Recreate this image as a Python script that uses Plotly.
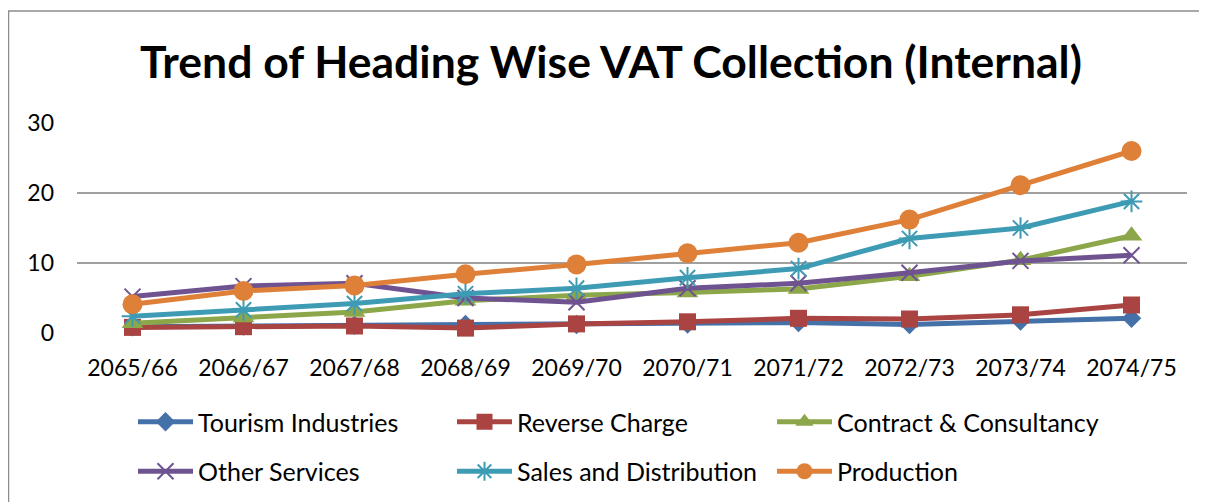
import plotly.graph_objects as go

categories = ["2065/66", "2066/67", "2067/68", "2068/69", "2069/70",
              "2070/71", "2071/72", "2072/73", "2073/74", "2074/75"]
tourism = [0.9, 1.0, 1.1, 1.2, 1.2, 1.3, 1.5, 1.2, 1.7, 2.1]
reverse_charge = [0.8, 0.9, 1.0, 0.7, 1.3, 1.6, 2.1, 2.0, 2.6, 4.0]
contract = [1.4, 2.2, 3.0, 4.6, 5.4, 5.8, 6.3, 8.1, 10.4, 13.9]
other_services = [5.2, 6.7, 7.1, 5.0, 4.4, 6.4, 7.1, 8.6, 10.3, 11.1]
sales = [2.4, 3.3, 4.2, 5.6, 6.4, 7.9, 9.2, 13.5, 15.0, 18.8]
production = [4.1, 6.0, 6.8, 8.4, 9.8, 11.4, 12.9, 16.2, 21.1, 26.0]
y_ticks = [0, 10, 20, 30]

FONT = "Lato"

# legend column: legend (col 1), legend2 (col 2), legend3 (col 3)
series = [
    ("Tourism Industries", tourism, "#4571A9", "diamond", 15, "legend"),
    ("Reverse Charge", reverse_charge, "#A94442", "square", 17, "legend2"),
    ("Contract & Consultancy", contract, "#8CA74A", "triangle-up", 19, "legend3"),
    ("Other Services", other_services, "#6F5391", "x-thin-open", 16, "legend"),
    ("Sales and Distribution", sales, "#3E9BB4", "asterisk-open", 18, "legend2"),
    ("Production", production, "#DF8039", "circle", 20, "legend3"),
]

fig = go.Figure()
for i, (name, vals, color, sym, size, lg) in enumerate(series):
    open_sym = sym.endswith("open")
    fig.add_trace(go.Scatter(
        x=categories, y=vals, name=name, mode="lines+markers",
        line=dict(color=color, width=5),
        marker=dict(symbol=sym, size=size, color=color,
                    line=dict(color=color, width=2 if open_sym else 0)),
        legend=lg, legendgroup=f"g{i}", cliponaxis=False,
    ))

# the page body adds an 8px offset; lay out in screen pixels minus that
OFF = 8
W, H = 1207 - OFF, 502 - OFF
L = 77 - OFF
T = 123 - OFF
R = W - (1187 - OFF)
B = H - (333 - OFF)
pw = W - L - R
ph = H - T - B

def px2x(px):
    return (px - OFF - L) / pw

def py2y(py):
    return (H - B - (py - OFF)) / ph

legend_common = dict(orientation="v", xanchor="left", yanchor="top",
                     xref="paper", yref="paper", itemwidth=55,
                     tracegroupgap=14, y=py2y(399),
                     font=dict(size=25, family=FONT), bgcolor="rgba(0,0,0,0)")

fig.update_layout(
    width=W, height=H,
    margin=dict(l=L, r=R, t=T, b=B, autoexpand=False),
    paper_bgcolor="white", plot_bgcolor="white",
    font=dict(family=FONT, color="black", size=22),
    title=dict(text="<b>Trend of Heading Wise VAT Collection (Internal)</b>",
               font=dict(family=FONT, size=44.5, color="black"),
               x=(611 - OFF) / W, xanchor="center", y=1 - (62 - OFF) / H,
               yanchor="middle", xref="container", yref="container"),
    xaxis=dict(type="category", range=[-0.5, 9.5], showgrid=False,
               showline=False, zeroline=False, ticks="",
               tickfont=dict(size=23, family=FONT), ticklabelstandoff=19),
    yaxis=dict(range=[0, 30], tickvals=y_ticks, showgrid=True,
               gridcolor="#A0A0A0", gridwidth=2, zeroline=False,
               showline=False, ticks="", tickfont=dict(size=23, family=FONT),
               ticklabelstandoff=22),
    legend=dict(x=px2x(133), **legend_common),
    legend2=dict(x=px2x(452), **legend_common),
    legend3=dict(x=px2x(772), **legend_common),
    shapes=[
        dict(type="line", xref="paper", yref="paper",
             x0=px2x(8.5), x1=px2x(8.5), y0=py2y(510), y1=py2y(11),
             line=dict(color="#8C8C8C", width=1.5)),
        dict(type="line", xref="paper", yref="paper",
             x0=px2x(8), x1=px2x(1215), y0=py2y(11), y1=py2y(11),
             line=dict(color="#8C8C8C", width=1.5)),
    ],
)

fig.write_html("out.html")
